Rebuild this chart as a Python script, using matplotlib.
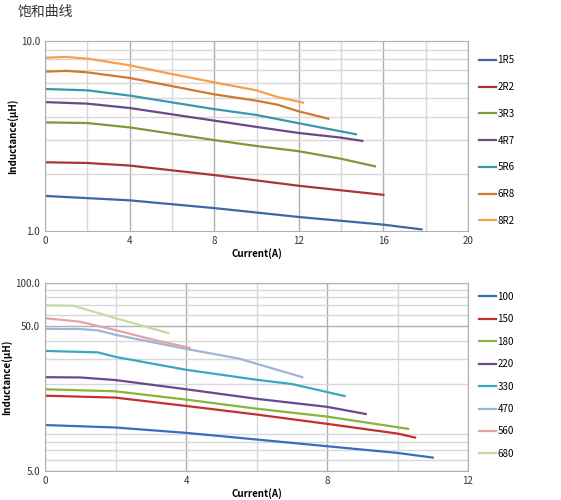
import numpy as np
import matplotlib.pyplot as plt
from matplotlib.ticker import FixedLocator, NullFormatter

plt.rcParams['font.family'] = ['Noto Sans CJK SC', 'DejaVu Sans']

# Top chart: inductance (uH) vs current (A)
top_names = ["1R5", "2R2", "3R3", "4R7", "5R6", "6R8", "8R2"]
top_colors = ["#3d68a8", "#aa3535", "#7a9a3c", "#68498a", "#3a98ae", "#cf7a2c", "#f5a04c"]
top_x = [
    [0, 4, 8, 12, 16, 17.8],
    [0, 2, 4, 8, 12, 16],
    [0, 2, 4, 8, 10, 12, 14, 15.6],
    [0, 2, 4, 8, 10, 12, 14, 15],
    [0, 2, 4, 8, 10, 12, 14.7],
    [0, 1, 2, 4, 6, 8, 10, 11, 12, 13.4],
    [0, 1, 2, 4, 6, 8, 10, 11, 12.2],
]
top_y = [
    [1.53, 1.45, 1.32, 1.185, 1.08, 1.02],
    [2.30, 2.28, 2.21, 1.97, 1.73, 1.55],
    [3.73, 3.70, 3.51, 3.01, 2.80, 2.63, 2.40, 2.19],
    [4.77, 4.68, 4.44, 3.81, 3.53, 3.28, 3.10, 2.98],
    [5.59, 5.50, 5.16, 4.38, 4.08, 3.69, 3.23],
    [6.90, 6.96, 6.84, 6.39, 5.79, 5.24, 4.85, 4.62, 4.26, 3.90],
    [8.17, 8.24, 8.08, 7.45, 6.70, 6.06, 5.50, 5.07, 4.74],
]

# Bottom chart
bot_names = ["100", "150", "180", "220", "330", "470", "560", "680"]
bot_colors = ["#3a6cc0", "#c4302a", "#8ab43a", "#6a4a8e", "#38a8c2", "#a2b2d8", "#e4a4a4", "#c4dca4"]
bot_x = [
    [0, 2, 4, 6, 8, 10, 11],
    [0, 2, 4, 6, 8, 10, 10.5],
    [0, 2, 4, 6, 8, 10.3],
    [0, 1, 2, 4, 6, 8, 9.1],
    [0, 1.5, 2, 4, 6, 7, 8, 8.5],
    [0, 1, 1.5, 2, 4, 5.5, 7.3],
    [0, 1, 2, 3, 4.1],
    [0, 0.8, 2, 3.5],
]
bot_y = [
    [10.4, 10.0, 9.18, 8.26, 7.42, 6.67, 6.19],
    [16.6, 16.1, 14.1, 12.3, 10.6, 9.08, 8.52],
    [18.4, 17.8, 15.6, 13.5, 11.9, 9.79],
    [22.3, 22.2, 21.3, 18.4, 15.8, 13.9, 12.4],
    [33.9, 33.1, 30.8, 25.1, 21.4, 20.0, 17.6, 16.5],
    [48.2, 48.0, 47.0, 43.8, 35.0, 30.0, 22.3],
    [57.1, 53.9, 47.2, 40.9, 35.6],
    [70.0, 69.6, 57.1, 45.0],
]

fig = plt.figure(figsize=(5.61, 5.0), dpi=100)
fig.text(18 / 561, 1 - 12 / 500, "饱和曲线", fontsize=10, va="center", ha="left", color="#333333")


def setup(ax, xmax, xstep, ymin, ymax, ylabels):
    ax.set_yscale("log")
    ax.set_xlim(0, xmax)
    ax.set_ylim(ymin, ymax)
    ax.set_xticks(np.arange(0, xmax + 0.1, xstep * 2))
    ax.xaxis.set_minor_locator(FixedLocator(np.arange(0, xmax + 0.1, xstep)))
    ax.yaxis.set_major_locator(FixedLocator([ymin, ymax]))
    ax.set_yticklabels(ylabels)
    ax.yaxis.set_minor_formatter(NullFormatter())
    ax.tick_params(length=0, labelsize=7, which="both", colors="#333333")
    ax.grid(True, which="major", axis="x", color="#b0b0b0", lw=1)
    ax.grid(True, which="minor", axis="x", color="#d8d8d8", lw=1)
    ax.grid(True, which="minor", axis="y", color="#d8d8d8", lw=1)
    for s in ax.spines.values():
        s.set_color("#b0b0b0")
    ax.set_xlabel("Current(A)", fontsize=7, fontweight="bold", labelpad=2)
    ax.set_ylabel("Inductance(μH)", fontsize=7, fontweight="bold", labelpad=2)


ax1 = fig.add_axes([45 / 561, 1 - 231 / 500, 423 / 561, 190 / 500])
for n, c, x, y in zip(top_names, top_colors, top_x, top_y):
    ax1.plot(x, y, color=c, lw=1.6, label=n)
setup(ax1, 20, 2, 1.0, 10.0, ["1.0", "10.0"])
ax1.legend(loc="upper left", bbox_to_anchor=(1.005, 0.97), frameon=False, fontsize=7,
           handlelength=1.8, handletextpad=0.1, labelspacing=1.72)

ax2 = fig.add_axes([45 / 561, 1 - 471 / 500, 423 / 561, 188 / 500])
for n, c, x, y in zip(bot_names, bot_colors, bot_x, bot_y):
    ax2.plot(x, y, color=c, lw=1.6, label=n)
setup(ax2, 12, 2, 5.0, 100.0, ["5.0", "100.0"])
ax2.yaxis.set_major_locator(FixedLocator([5.0, 50.0, 100.0]))
ax2.set_yticklabels(["5.0", "50.0", "100.0"])
ax2.grid(True, which="major", axis="y", color="#b0b0b0", lw=1)
ax2.legend(loc="upper left", bbox_to_anchor=(1.005, 1.0), frameon=False, fontsize=7,
           handlelength=1.8, handletextpad=0.1, labelspacing=1.28)

fig.savefig("out.png", dpi=100)
